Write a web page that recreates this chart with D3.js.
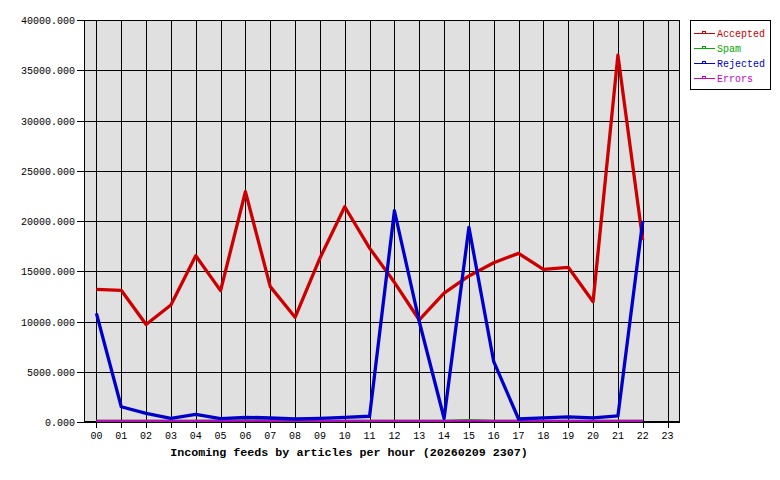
<!DOCTYPE html>
<html><head><meta charset="utf-8">
<script src="https://cdn.jsdelivr.net/npm/d3@7"></script>
<style>body{margin:0;background:#fff}svg{display:block}</style>
</head><body>
<svg id="c" width="780" height="480"></svg>
<script>
const hours = ["00","01","02","03","04","05","06","07","08","09","10","11","12","13","14","15","16","17","18","19","20","21","22","23"];
const accepted = [13200,13100,9700,11640,16550,13070,22920,13470,10420,16300,21420,17300,13900,10150,12830,14530,15850,16780,15190,15390,11970,36500,18100];
const spam     = [0,0,0,0,0,30,50,0,0,0,0,0,0,0,0,60,0,0,0,0,0,0,0];
const rejected = [10810,1520,860,370,760,330,470,400,300,370,470,570,21020,10000,370,19370,6000,300,420,500,420,600,20000];
const errors   = [0,0,0,0,0,0,0,0,0,0,0,0,0,0,0,0,0,0,0,0,0,0,0];
const yTicks = [0,5000,10000,15000,20000,25000,30000,35000,40000];
const seriesNames = ["Accepted","Spam","Rejected","Errors"];
const seriesColors = ["#cc0000","#00aa00","#0000cc","#cc00cc"];
const seriesData = [accepted, spam, rejected, errors];
const seriesWidths = [3.3,2,3.3,2];
const title = "Incoming feeds by articles per hour (20260209 2307)";

const svg = d3.select("#c");
const L=84, R=680, T=20, B=422;
const x = d3.scalePoint().domain(hours).range([L,R]).padding(0.5);
const y = d3.scaleLinear().domain([0,40000]).range([B,T]);
const yLow = d3.scaleLinear().domain([0,40000]).range([B-1.3,T-1.3]);
const mono = "'Liberation Mono','DejaVu Sans Mono',monospace";

svg.append("rect").attr("x",L).attr("y",T).attr("width",R-L).attr("height",B-T)
  .attr("fill","#e0e0e0");

// grid
const g = svg.append("g").attr("shape-rendering","crispEdges");
g.selectAll(".vg").data(hours).join("line")
  .attr("x1",d=>Math.round(x(d))+0.5).attr("x2",d=>Math.round(x(d))+0.5)
  .attr("y1",T).attr("y2",B+6).attr("stroke","#000");
g.selectAll(".hg").data(yTicks).join("line")
  .attr("x1",L-7).attr("x2",R).attr("y1",d=>Math.round(y(d))+0.5).attr("y2",d=>Math.round(y(d))+0.5)
  .attr("stroke","#000");
g.append("rect").attr("x",L+0.5).attr("y",T+0.5).attr("width",R-L-1).attr("height",B-T-1)
  .attr("fill","none").attr("stroke","#000");

// axis labels
svg.selectAll(".yl").data(yTicks).join("text")
  .attr("x",L-9).attr("y",d=>y(d)+4).attr("text-anchor","end")
  .attr("font-family",mono).attr("font-size","10px").attr("fill","#000")
  .text(d=>d3.format(".3f")(d));
svg.selectAll(".xl").data(hours).join("text")
  .attr("x",d=>x(d)).attr("y",B+17).attr("text-anchor","middle")
  .attr("font-family",mono).attr("font-size","10px").attr("fill","#000")
  .text(d=>d);
svg.append("text").attr("x",349).attr("y",456).attr("text-anchor","middle")
  .attr("font-family",mono).attr("font-size","11.7px").attr("font-weight","bold")
  .attr("fill","#000").text(title);

// lines
[1,3,0,2].forEach(k=>{
  const ys = (k===1||k===3) ? yLow : y;
  const line = d3.line().x((d,i)=>x(hours[i])).y(d=>ys(d));
  svg.append("path").datum(seriesData[k]).attr("d",line).attr("fill","none")
    .attr("stroke",seriesColors[k]).attr("stroke-width",seriesWidths[k])
    .attr("stroke-linejoin","round");
});

// legend
const lg = svg.append("g");
lg.append("rect").attr("x",690.5).attr("y",20.5).attr("width",80).attr("height",69)
  .attr("fill","#fff").attr("stroke","#000").attr("shape-rendering","crispEdges");
seriesNames.forEach((n,i)=>{
  const yy = 33 + i*15;
  lg.append("line").attr("x1",694).attr("x2",715).attr("y1",yy+0.5).attr("y2",yy+0.5)
    .attr("stroke",seriesColors[i]).attr("shape-rendering","crispEdges");
  lg.append("rect").attr("x",702.5).attr("y",yy-1.5).attr("width",3).attr("height",2)
    .attr("fill","none").attr("stroke",seriesColors[i]).attr("shape-rendering","crispEdges");
  lg.append("text").attr("x",717).attr("y",yy+4).attr("font-family",mono)
    .attr("font-size","10px").attr("fill",seriesColors[i]).text(n);
});
</script>
</body></html>
